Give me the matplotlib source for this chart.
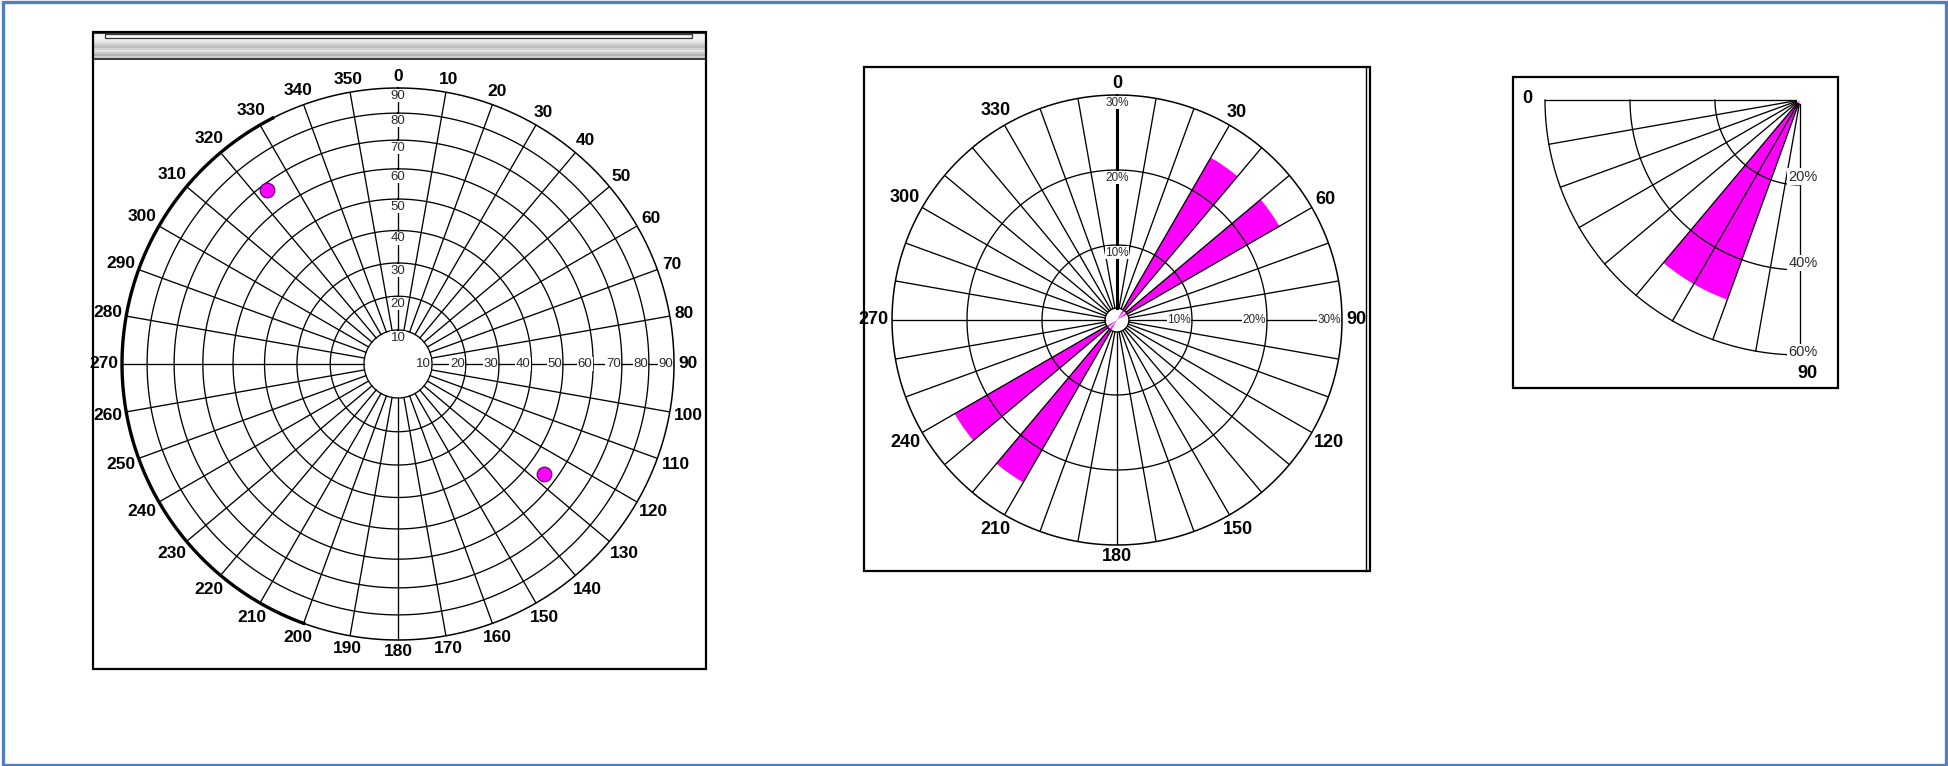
import numpy as np
import matplotlib
matplotlib.use("Agg")
import matplotlib.pyplot as plt
from matplotlib.patches import Rectangle
from matplotlib import font_manager as fm

# ---------------- data ----------------
# poles: dip direction (deg) and dip (deg)
pole_dip_dir = [323, 127]
pole_dip = [68, 56]

# strike rose: 10-degree bins (bin start) and percentage
strike_bins = [30, 50, 210, 230]
strike_pct = [25, 25, 25, 25]

# dip rose: 10-degree bins (bin start) and percentage
dip_bins = [50, 60]
dip_pct = [50, 50]

net_ring_labels = [10, 20, 30, 40, 50, 60, 70, 80, 90]
net_azimuth_labels = list(range(0, 360, 10))
rose_ring_labels = [10, 20, 30]
rose_azimuth_labels = list(range(0, 360, 30))
dip_ring_labels = [20, 40, 60]

W, H = 1949, 766
MAGENTA = "#ff00ff"


def pick_font(*names):
    for n in names:
        try:
            fm.findfont(fm.FontProperties(family=n), fallback_to_default=False)
            return n
        except Exception:
            pass
    return "DejaVu Sans"


BOLD_FONT = pick_font("Liberation Sans Narrow", "Liberation Sans", "DejaVu Sans")
SMALL_FONT = pick_font("Liberation Sans", "DejaVu Sans")

fig = plt.figure(figsize=(W / 100, H / 100), dpi=100)


def polar_box(cx, cy, R):
    return [(cx - R) / W, 1 - (cy + R) / H, 2 * R / W, 2 * R / H]


def fig_rect(x0, y0, x1, y1, **kw):
    r = Rectangle((x0 / W, 1 - y1 / H), (x1 - x0) / W, (y1 - y0) / H,
                  transform=fig.transFigure, **kw)
    fig.add_artist(r)
    return r


def clean(ax):
    ax.set_facecolor("none")
    ax.grid(False)
    ax.set_xticks([])
    ax.set_yticks([])
    ax.spines["polar"].set_visible(False)


PX2PT = 72 / 100


def outer_labels(ax, angles, rmax, screen_dir, fs, gap=5):
    for a in angles:
        s = str(a)
        ux, uy = screen_dir(a)
        w = 8.6 * len(s) * fs / 12.5
        h = 12.5 * fs / 12.5
        d = gap + abs(ux) * w / 2 + abs(uy) * h / 2
        ax.annotate(s, xy=(np.radians(a), rmax), xytext=(ux * d * PX2PT, uy * d * PX2PT),
                    textcoords="offset points", ha="center", va="center",
                    fontsize=fs, fontweight="bold", family=BOLD_FONT,
                    annotation_clip=False)


LW = 0.95
full = np.linspace(0, 2 * np.pi, 721)
SMALL_COLOR = "#2a2a2a"

# ---------------- panel 1: equal-area polar net ----------------
fig_rect(93, 32, 706, 669, fill=False, ec="black", lw=1.6, zorder=3)
# window header bar
ax_h = fig.add_axes([93 / W, 1 - 60 / H, 613 / W, 28 / H])
stripes = np.array([60, 60, 240, 240, 244, 244, 244, 240, 236, 232,
                    222, 222, 205, 205, 190, 190, 212, 212, 226, 226,
                    200, 200, 180, 180, 205, 205, 60, 60]) / 255.0
ax_h.imshow(np.repeat(stripes[:, None], 4, axis=1), cmap="gray", vmin=0, vmax=1,
            aspect="auto", extent=(0, 1, 0, 1), interpolation="nearest")
ax_h.set_axis_off()
fig_rect(105, 34, 692, 38, fc="#f8f8f8", ec="#333333", lw=0.9, zorder=4)

ax1 = fig.add_axes(polar_box(398, 364, 276), projection="polar")
ax1.set_theta_zero_location("N")
ax1.set_theta_direction(-1)


def ea_fwd(d):
    d = np.clip(np.asarray(d, dtype=float), 0, 180)
    return np.sin(np.radians(d) / 2) / np.sin(np.pi / 4)


def ea_inv(r):
    r = np.clip(np.asarray(r, dtype=float) * np.sin(np.pi / 4), -1, 1)
    return 2 * np.degrees(np.arcsin(r))


ax1.set_rscale("function", functions=(ea_fwd, ea_inv))
ax1.set_rlim(0, 90)
clean(ax1)

for d in net_ring_labels:
    ax1.plot(full, np.full_like(full, d), color="black", lw=1.1 if d == 90 else LW,
             clip_on=False, zorder=2)
bold_arc = np.radians(np.linspace(200, 333, 200))
ax1.plot(bold_arc, np.full_like(bold_arc, 90), color="black", lw=2.4, clip_on=False, zorder=2)
for a in net_azimuth_labels:
    ax1.plot([np.radians(a)] * 2, [10, 90], color="black", lw=LW, zorder=2)

box_kw = dict(fc="white", ec="none", pad=0.4)
for d in net_ring_labels:
    ax1.annotate(str(d), xy=(0, d), xytext=(0, -1.2), textcoords="offset points",
                 ha="center", va="top", fontsize=9.5, color=SMALL_COLOR,
                 family=SMALL_FONT, bbox=box_kw, zorder=3)
    ax1.annotate(str(d), xy=(np.pi / 2, d), xytext=(-0.8, 0), textcoords="offset points",
                 ha="right", va="center", fontsize=9.5, color=SMALL_COLOR,
                 family=SMALL_FONT, bbox=box_kw, zorder=3)

ax1.plot(np.radians(pole_dip_dir), pole_dip, "o", ms=10.5, mfc=MAGENTA, mec="#6a006a",
         mew=0.9, zorder=5, clip_on=False)

outer_labels(ax1, net_azimuth_labels, 90,
             lambda a: (np.sin(np.radians(a)), np.cos(np.radians(a))), 12.5)

# ---------------- panel 2: strike rose ----------------
fig_rect(864, 67, 1370, 571, fill=False, ec="black", lw=1.6, zorder=3)
fig.add_artist(plt.Line2D([1366 / W] * 2, [1 - 67 / H, 1 - 571 / H],
                          transform=fig.transFigure, color="black", lw=1.0))

ax2 = fig.add_axes(polar_box(1117, 320, 225), projection="polar")
ax2.set_theta_zero_location("N")
ax2.set_theta_direction(-1)
ax2.set_rlim(0, 30)
clean(ax2)

ax2.bar(np.radians(np.array(strike_bins) + 5), strike_pct, width=np.radians(10),
        bottom=0, color=MAGENTA, edgecolor="none", zorder=1)
hole = 1.6
ax2.plot(full, np.full_like(full, hole), color="black", lw=LW, zorder=2)
for p in rose_ring_labels:
    ax2.plot(full, np.full_like(full, p), color="black", lw=1.1 if p == 30 else LW,
             clip_on=False, zorder=2)
for a in range(0, 360, 10):
    ax2.plot([np.radians(a)] * 2, [hole, 30], color="black", lw=LW, zorder=2)
ax2.plot([0, 0], [hole, 30], color="black", lw=2.2, zorder=2)
for p in rose_ring_labels:
    ax2.annotate(f"{p}%", xy=(0, p), xytext=(0, -1.2), textcoords="offset points",
                 ha="center", va="top", fontsize=8.5, color=SMALL_COLOR,
                 family=SMALL_FONT, bbox=box_kw, zorder=3)
    ax2.annotate(f"{p}%", xy=(np.pi / 2, p), xytext=(-0.8, 0), textcoords="offset points",
                 ha="right", va="center", fontsize=8.5, color=SMALL_COLOR,
                 family=SMALL_FONT, bbox=box_kw, zorder=3)

outer_labels(ax2, rose_azimuth_labels, 30,
             lambda a: (np.sin(np.radians(a)), np.cos(np.radians(a))), 13)

# ---------------- panel 3: dip rose (quadrant) ----------------
fig_rect(1513, 77, 1838, 388, fill=False, ec="black", lw=1.6, zorder=3)

ax3 = fig.add_axes(polar_box(1800, 100, 255), projection="polar")
ax3.set_theta_zero_location("W")
ax3.set_theta_direction(1)
ax3.set_rlim(0, 60)
clean(ax3)

ax3.bar(np.radians(np.array(dip_bins) + 5), dip_pct, width=np.radians(10),
        bottom=0, color=MAGENTA, edgecolor="none", zorder=1)
quad = np.linspace(0, np.pi / 2, 181)
for p in dip_ring_labels:
    ax3.plot(quad, np.full_like(quad, p), color="black", lw=LW, clip_on=False, zorder=2)
for a in range(0, 100, 10):
    ax3.plot([np.radians(a)] * 2, [1.0, 60], color="black", lw=LW, clip_on=False, zorder=2)
for p, up in zip(dip_ring_labels, [6, 5, 2]):
    ax3.annotate(f"{p}%", xy=(np.pi / 2, p), xytext=(2, up), textcoords="offset points",
                 ha="center", va="center", fontsize=10.5, color=SMALL_COLOR,
                 family=SMALL_FONT, bbox=dict(fc="white", ec="none", pad=0.8), zorder=3)
ax3.annotate("0", xy=(0, 60), xytext=(-13, 1), textcoords="offset points",
             ha="center", va="center", fontsize=13, fontweight="bold",
             family=BOLD_FONT, annotation_clip=False)
ax3.annotate("90", xy=(np.pi / 2, 60), xytext=(5, -13), textcoords="offset points",
             ha="center", va="center", fontsize=13, fontweight="bold",
             family=BOLD_FONT, annotation_clip=False)

# ---------------- outer frame ----------------
fig_rect(3.5, 1.5, 1946, 765, fill=False, ec="#4F81BD", lw=2.4, zorder=5)

fig.savefig("out.png", dpi=100)
